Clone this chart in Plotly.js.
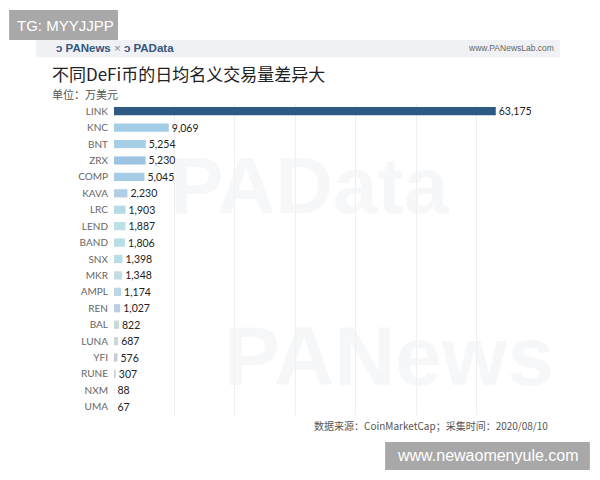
<!DOCTYPE html>
<html>
<head>
<meta charset="utf-8">
<script src="https://cdn.plot.ly/plotly-3.0.1.min.js"></script>
<style>html,body{margin:0;padding:0;background:#fff;}#chart{width:600px;height:480px;}</style>
</head>
<body>
<div id="chart"></div>
<script>
const coins = ["LINK","KNC","BNT","ZRX","COMP","KAVA","LRC","LEND","BAND","SNX","MKR","AMPL","REN","BAL","LUNA","YFI","RUNE","NXM","UMA"];
const volumes = [63175,9069,5254,5230,5045,2230,1903,1887,1806,1398,1348,1174,1027,822,687,576,307,88,67];
const barColors = ["#2d5a84","#a3cde6","#a6cfe6","#9dc4e2","#a5cde5","#b0cfe4","#b7dbe6","#bde0e8","#b8dce8","#b9dde6","#c3dde6","#bcd7e6","#bccde6","#c8d8d8","#c8dad8","#c6ccd6","#d0d4d8","#e0e4e8","#e4e8ea"];

const title = "不同DeFi币的日均名义交易量差异大";
const unit = "单位：万美元";
const source = "数据来源：CoinMarketCap；采集时间：2020/08/10";

const trace = {
  type: "bar",
  orientation: "h",
  y: coins,
  x: volumes,
  width: 0.5,
  marker: {color: barColors},
  texttemplate: "%{x:,}",
  textposition: "outside",
  constraintext: "none",
  cliponaxis: false,
  textfont: {family: "Lato, 'Noto Sans', sans-serif", size: 10.5, color: "#222"},
  hoverinfo: "none"
};

const layout = {
  width: 600, height: 480,
  margin: {l: 114, r: 63, t: 103, b: 65},
  paper_bgcolor: "#fff", plot_bgcolor: "#fff",
  showlegend: false,
  font: {family: "'Noto Sans CJK SC', 'Noto Sans', sans-serif"},
  xaxis: {range: [0, 70000], dtick: 10000, showticklabels: false, showgrid: true, gridcolor: "#efefef", gridwidth: 1, zeroline: false, showline: false, fixedrange: true},
  yaxis: {autorange: "reversed", showgrid: false, zeroline: false, showline: false, ticks: "", ticklabelstandoff: 5, tickfont: {family: "Lato, 'Noto Sans', sans-serif", size: 10, color: "#666"}},
  bargap: 0.5,
  shapes: [
    {type: "rect", xref: "paper", yref: "paper", x0: -0.184, x1: 1.054, y0: 1.202, y1: 1.147, fillcolor: "#f0f1f4", line: {width: 0}, layer: "below"},
    {type: "rect", xref: "paper", yref: "paper", x0: -0.248, x1: 0.0095, y0: 1.298, y1: 1.202, fillcolor: "#a8a8a8", line: {width: 0}},
    {type: "rect", xref: "paper", yref: "paper", x0: 0.641, x1: 1.125, y0: -0.0865, y1: -0.176, fillcolor: "#a8a8a8", line: {width: 0}}
  ],
  annotations: [
    {xref: "paper", yref: "paper", x: 0.463, y: 0.737, xanchor: "center", yanchor: "middle", text: "<b>PAData</b>", showarrow: false, font: {family: "Liberation Sans, sans-serif", size: 80, color: "rgba(238,241,245,0.6)"}},
    {xref: "paper", yref: "paper", x: 0.65, y: 0.19, xanchor: "center", yanchor: "middle", text: "<b>PANews</b>", showarrow: false, font: {family: "Liberation Sans, sans-serif", size: 84, color: "rgba(238,241,245,0.6)"}},
    {xref: "paper", yref: "paper", x: -0.235, y: 1.25, xanchor: "left", yanchor: "middle", text: "TG: MYYJJPP", showarrow: false, font: {family: "Liberation Sans, sans-serif", size: 15, color: "#ffffff"}},
    {xref: "paper", yref: "paper", x: 0.883, y: -0.131, xanchor: "center", yanchor: "middle", text: "www.newaomenyule.com", showarrow: false, font: {family: "Liberation Sans, sans-serif", size: 16, color: "#ffffff"}},
    {xref: "paper", yref: "paper", x: -0.142, y: 1.175, xanchor: "left", yanchor: "middle", text: "<b>ↄ PANews</b> <span style='color:#888'>×</span> <b>ↄ PAData</b>", showarrow: false, font: {family: "Liberation Sans, sans-serif", size: 11.5, color: "#35577f"}},
    {xref: "paper", yref: "paper", x: 1.045, y: 1.175, xanchor: "right", yanchor: "middle", text: "www.PANewsLab.com", showarrow: false, font: {family: "Liberation Sans, sans-serif", size: 8.5, color: "#666"}},
    {xref: "paper", yref: "paper", x: -0.152, y: 1.096, xanchor: "left", yanchor: "middle", text: title, showarrow: false, font: {family: "'Noto Sans CJK SC', sans-serif", size: 17, color: "#222"}},
    {xref: "paper", yref: "paper", x: -0.152, y: 1.029, xanchor: "left", yanchor: "middle", text: unit, showarrow: false, font: {family: "'Noto Sans CJK SC', sans-serif", size: 11, color: "#555"}},
    {xref: "paper", yref: "paper", x: 1.03, y: -0.035, xanchor: "right", yanchor: "middle", text: source, showarrow: false, font: {family: "'Noto Sans CJK SC', sans-serif", size: 10, color: "#555"}}
  ]
};

Plotly.newPlot("chart", [trace], layout, {displayModeBar: false, staticPlot: true});
</script>
</body>
</html>
